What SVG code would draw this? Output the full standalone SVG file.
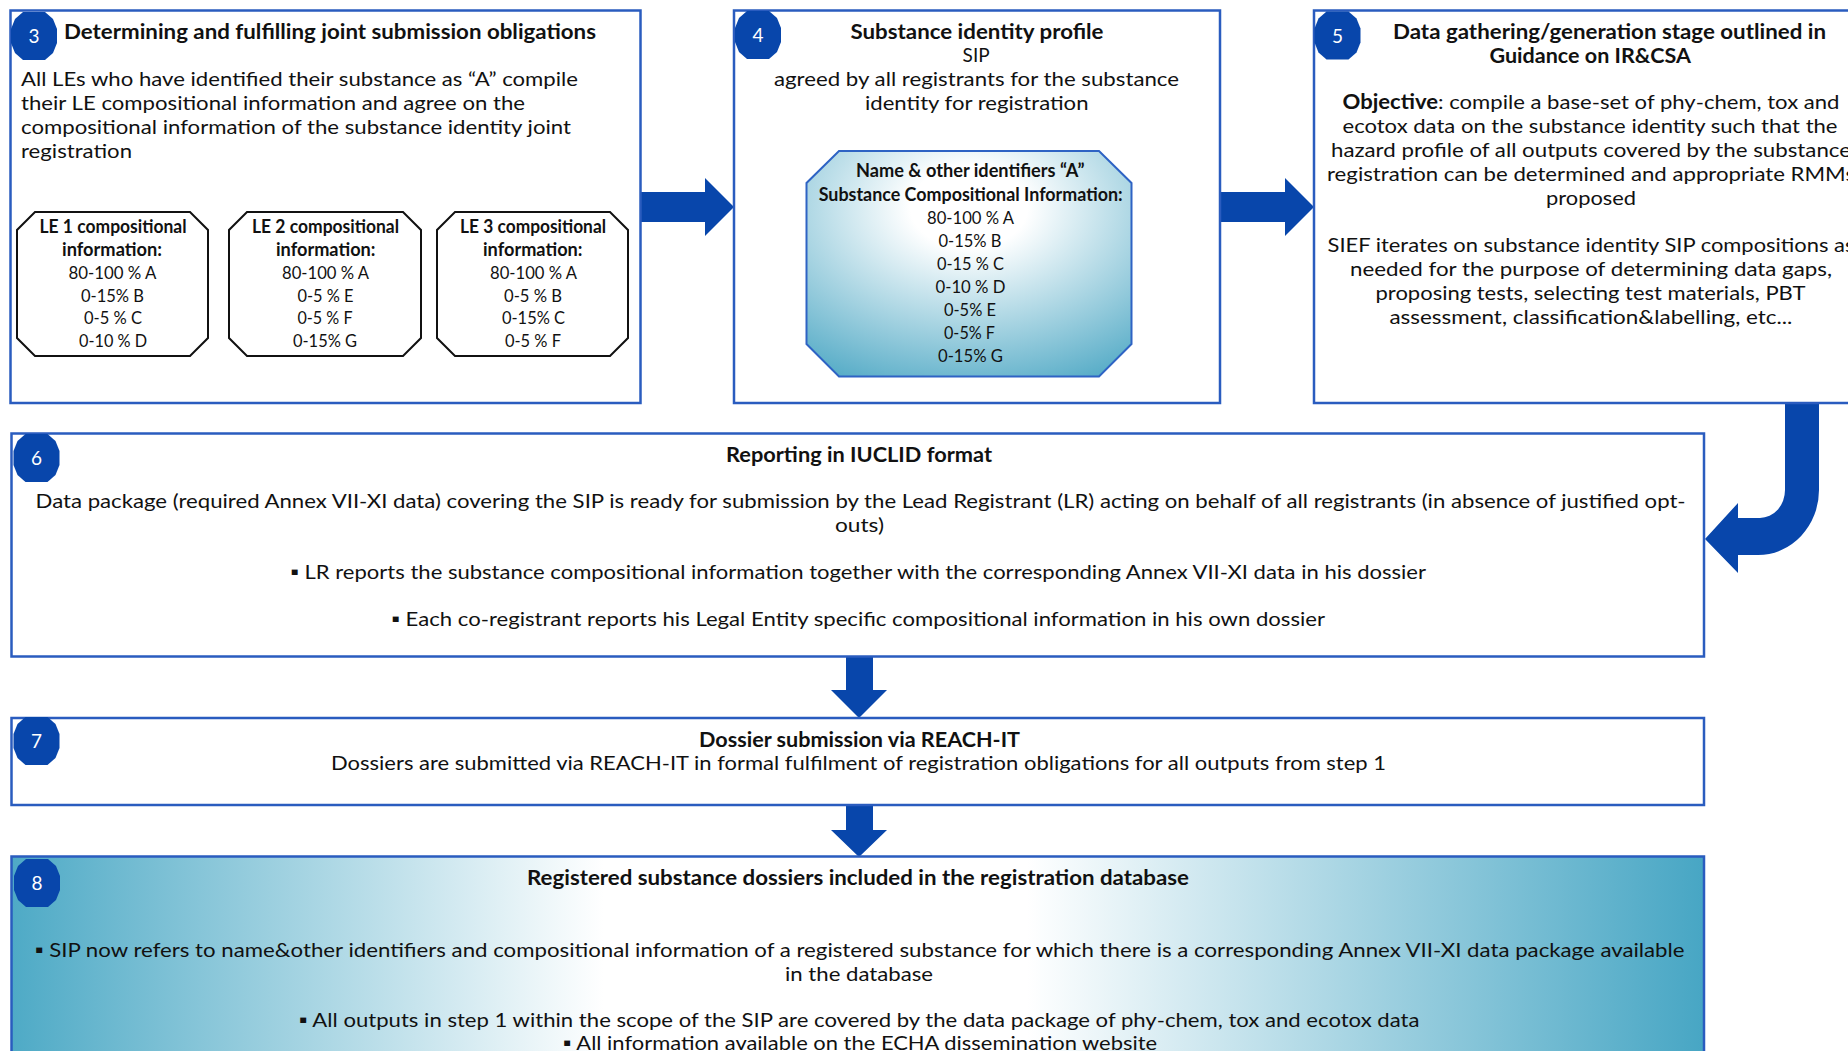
<svg xmlns="http://www.w3.org/2000/svg" xmlns:xlink="http://www.w3.org/1999/xlink" width="1848" height="1051" viewBox="0 0 1848 1051">
<style>
.box{fill:#fff;stroke:#2a5cbf;stroke-width:2.5}
.le{fill:#fff;stroke:#111;stroke-width:2}
.t{font-family:Lato,"Liberation Sans",sans-serif;font-size:20px;fill:#111}
.b{font-weight:bold}
.s{font-size:18px}
.badge{fill:#0846ab}
.num{font-family:Lato,"Liberation Sans",sans-serif;font-size:19px;fill:#fff;text-anchor:middle}
.arrow{fill:#0846ab}
</style>
<defs>
<polygon id="bdg" points="-11,-24 11,-24 19,-17 23,-7 23,7 19,17 11,24 -11,24 -19,17 -23,7 -23,-7 -19,-17"/>
<radialGradient id="octGrad" cx="0.5" cy="0.25" r="0.9" fx="0.5" fy="0.25">
<stop offset="0" stop-color="#ffffff"/>
<stop offset="0.2" stop-color="#ffffff"/>
<stop offset="1" stop-color="#4aa6c3"/>
</radialGradient>
<linearGradient id="boxGrad" x1="0" y1="0" x2="1" y2="0">
<stop offset="0" stop-color="#4eaac6"/>
<stop offset="0.35" stop-color="#ffffff"/>
<stop offset="0.6" stop-color="#ffffff"/>
<stop offset="1" stop-color="#47a6c4"/>
</linearGradient>
</defs>

<g id="connectors">
<polygon class="arrow" points="640,192 705,192 705,178 734,207 705,236 705,222 640,222"/>
<polygon class="arrow" points="1220,192 1285,192 1285,178 1314,207 1285,236 1285,222 1220,222"/>
<path class="arrow" d="M1785,402 H1819 V490 A61,65 0 0 1 1758,555 H1738 V573 L1705,539 L1738,503 V518 H1760 A25,28 0 0 0 1785,490 Z"/>
<polygon class="arrow" points="846,657 873,657 873,690 887,690 859,718 831,690 846,690"/>
<polygon class="arrow" points="846,805 873,805 873,830 887,830 859,857 831,830 846,830"/>
</g>

<g id="node3">
<rect class="box" x="10.5" y="10.5" width="630" height="392.5"/>
<use href="#bdg" class="badge" x="34" y="36"/>
<text class="num" x="34" y="43">3</text>
<text class="t b" x="64" y="39" textLength="532" lengthAdjust="spacingAndGlyphs">Determining and fulfilling joint submission obligations</text>
<text class="t" x="21" y="86" textLength="557" lengthAdjust="spacingAndGlyphs">All LEs who have identified their substance as “A” compile</text>
<text class="t" x="21" y="110" textLength="504" lengthAdjust="spacingAndGlyphs">their LE compositional information and agree on the</text>
<text class="t" x="21" y="134" textLength="550" lengthAdjust="spacingAndGlyphs">compositional information of the substance identity joint</text>
<text class="t" x="21" y="158" textLength="111" lengthAdjust="spacingAndGlyphs">registration</text>
<g id="le1">
<polygon class="le" points="35,212 190,212 208,230 208,338 190,356 35,356 17,338 17,230"/>
<text class="t s b" x="39.5" y="233" textLength="147" lengthAdjust="spacingAndGlyphs">LE 1 compositional</text>
<text class="t s b" x="62" y="256" textLength="100" lengthAdjust="spacingAndGlyphs">information:</text>
<text class="t s" x="68.5" y="279" textLength="88" lengthAdjust="spacingAndGlyphs">80-100 % A</text>
<text class="t s" x="81" y="301.5" textLength="63" lengthAdjust="spacingAndGlyphs">0-15% B</text>
<text class="t s" x="84" y="324" textLength="58" lengthAdjust="spacingAndGlyphs">0-5 % C</text>
<text class="t s" x="79" y="347" textLength="68" lengthAdjust="spacingAndGlyphs">0-10 % D</text>
</g>
<g id="le2">
<polygon class="le" points="247,212 403,212 421,230 421,338 403,356 247,356 229,338 229,230"/>
<text class="t s b" x="252" y="233" textLength="147" lengthAdjust="spacingAndGlyphs">LE 2 compositional</text>
<text class="t s b" x="276" y="256" textLength="99.5" lengthAdjust="spacingAndGlyphs">information:</text>
<text class="t s" x="282" y="279" textLength="87" lengthAdjust="spacingAndGlyphs">80-100 % A</text>
<text class="t s" x="297.5" y="301.5" textLength="56" lengthAdjust="spacingAndGlyphs">0-5 % E</text>
<text class="t s" x="297.5" y="324" textLength="55" lengthAdjust="spacingAndGlyphs">0-5 % F</text>
<text class="t s" x="293" y="347" textLength="64" lengthAdjust="spacingAndGlyphs">0-15% G</text>
</g>
<g id="le3">
<polygon class="le" points="455,212 610,212 628,230 628,338 610,356 455,356 437,338 437,230"/>
<text class="t s b" x="460" y="233" textLength="146" lengthAdjust="spacingAndGlyphs">LE 3 compositional</text>
<text class="t s b" x="483" y="256" textLength="99.5" lengthAdjust="spacingAndGlyphs">information:</text>
<text class="t s" x="490" y="279" textLength="87" lengthAdjust="spacingAndGlyphs">80-100 % A</text>
<text class="t s" x="504" y="301.5" textLength="58" lengthAdjust="spacingAndGlyphs">0-5 % B</text>
<text class="t s" x="502" y="324" textLength="63" lengthAdjust="spacingAndGlyphs">0-15% C</text>
<text class="t s" x="505" y="347" textLength="56" lengthAdjust="spacingAndGlyphs">0-5 % F</text>
</g>
</g>

<g id="node4">
<rect class="box" x="734" y="10.5" width="486" height="392.5"/>
<use href="#bdg" class="badge" x="758" y="35"/>
<text class="num" x="758" y="42">4</text>
<text class="t b" x="850.5" y="39" textLength="253" lengthAdjust="spacingAndGlyphs">Substance identity profile</text>
<text class="t" x="962.6" y="62" textLength="27" lengthAdjust="spacingAndGlyphs">SIP</text>
<text class="t" x="774" y="86" textLength="405" lengthAdjust="spacingAndGlyphs">agreed by all registrants for the substance</text>
<text class="t" x="865" y="110" textLength="223.5" lengthAdjust="spacingAndGlyphs">identity for registration</text>
<g id="sip">
<polygon points="839,151 1099,151 1131.5,183 1131.5,344 1099,376.5 839,376.5 806.5,344 806.5,183" fill="url(#octGrad)" stroke="#2e63c4" stroke-width="2"/>
<text class="t s b" x="856" y="177" textLength="228.5" lengthAdjust="spacingAndGlyphs">Name &amp; other identifiers “A”</text>
<text class="t s b" x="818.7" y="200.5" textLength="304" lengthAdjust="spacingAndGlyphs">Substance Compositional Information:</text>
<text class="t s" x="927" y="223.5" textLength="87" lengthAdjust="spacingAndGlyphs">80-100 % A</text>
<text class="t s" x="938.5" y="246.5" textLength="63" lengthAdjust="spacingAndGlyphs">0-15% B</text>
<text class="t s" x="937" y="269.5" textLength="67" lengthAdjust="spacingAndGlyphs">0-15 % C</text>
<text class="t s" x="935.5" y="292.5" textLength="70" lengthAdjust="spacingAndGlyphs">0-10 % D</text>
<text class="t s" x="944" y="315.5" textLength="52" lengthAdjust="spacingAndGlyphs">0-5% E</text>
<text class="t s" x="944" y="338.5" textLength="51" lengthAdjust="spacingAndGlyphs">0-5% F</text>
<text class="t s" x="938" y="361.5" textLength="65" lengthAdjust="spacingAndGlyphs">0-15% G</text>
</g>
</g>

<g id="node5">
<rect class="box" x="1314" y="10.5" width="580" height="392.5"/>
<use href="#bdg" class="badge" x="1337.5" y="35.5"/>
<text class="num" x="1337.5" y="42.5">5</text>
<text class="t b" x="1393" y="38.5" textLength="433" lengthAdjust="spacingAndGlyphs">Data gathering/generation stage outlined in</text>
<text class="t b" x="1489.5" y="62.5" textLength="201.5" lengthAdjust="spacingAndGlyphs">Guidance on IR&amp;CSA</text>
<text class="t" x="1342.5" y="109" textLength="497" lengthAdjust="spacingAndGlyphs"><tspan class="b">Objective</tspan>: compile a base-set of phy-chem, tox and</text>
<text class="t" x="1342.5" y="133" textLength="495" lengthAdjust="spacingAndGlyphs">ecotox data on the substance identity such that the</text>
<text class="t" x="1331" y="157" textLength="520" lengthAdjust="spacingAndGlyphs">hazard profile of all outputs covered by the substance</text>
<text class="t" x="1327" y="181" textLength="528" lengthAdjust="spacingAndGlyphs">registration can be determined and appropriate RMMs</text>
<text class="t" x="1546" y="205" textLength="90" lengthAdjust="spacingAndGlyphs">proposed</text>
<text class="t" x="1327.5" y="252" textLength="527" lengthAdjust="spacingAndGlyphs">SIEF iterates on substance identity SIP compositions as</text>
<text class="t" x="1350" y="276" textLength="482" lengthAdjust="spacingAndGlyphs">needed for the purpose of determining data gaps,</text>
<text class="t" x="1375.5" y="300" textLength="430" lengthAdjust="spacingAndGlyphs">proposing tests, selecting test materials, PBT</text>
<text class="t" x="1389.4" y="324" textLength="403" lengthAdjust="spacingAndGlyphs">assessment, classification&amp;labelling, etc...</text>
</g>

<g id="node6">
<rect class="box" x="11.5" y="433.5" width="1692.5" height="223"/>
<use href="#bdg" class="badge" x="36.5" y="458"/>
<text class="num" x="36.5" y="465">6</text>
<text class="t b" x="726" y="462" textLength="266" lengthAdjust="spacingAndGlyphs">Reporting in IUCLID format</text>
<text class="t" x="35.6" y="508" textLength="1650" lengthAdjust="spacingAndGlyphs">Data package (required Annex VII-XI data) covering the SIP is ready for submission by the Lead Registrant (LR) acting on behalf of all registrants (in absence of justified opt-</text>
<text class="t" x="835" y="532" textLength="49" lengthAdjust="spacingAndGlyphs">outs)</text>
<text class="t" x="290" y="579" textLength="1136" lengthAdjust="spacingAndGlyphs">▪ LR reports the substance compositional information together with the corresponding Annex VII-XI data in his dossier</text>
<text class="t" x="391" y="626" textLength="934" lengthAdjust="spacingAndGlyphs">▪ Each co-registrant reports his Legal Entity specific compositional information in his own dossier</text>
</g>

<g id="node7">
<rect class="box" x="11.5" y="718" width="1692.5" height="87"/>
<use href="#bdg" class="badge" x="36.5" y="741"/>
<text class="num" x="36.5" y="748">7</text>
<text class="t b" x="699" y="746.5" textLength="321" lengthAdjust="spacingAndGlyphs">Dossier submission via REACH-IT</text>
<text class="t" x="331" y="769.5" textLength="1055" lengthAdjust="spacingAndGlyphs">Dossiers are submitted via REACH-IT in formal fulfilment of registration obligations for all outputs from step 1</text>
</g>

<g id="node8">
<rect x="11.5" y="856.5" width="1692.5" height="260" fill="url(#boxGrad)" stroke="#2a5cbf" stroke-width="2.5"/>
<use href="#bdg" class="badge" x="37" y="883"/>
<text class="num" x="37" y="890">8</text>
<text class="t b" x="527" y="885" textLength="662" lengthAdjust="spacingAndGlyphs">Registered substance dossiers included in the registration database</text>
<text class="t" x="34.5" y="957" textLength="1650" lengthAdjust="spacingAndGlyphs">▪ SIP now refers to name&amp;other identifiers and compositional information of a registered substance for which there is a corresponding Annex VII-XI data package available</text>
<text class="t" x="785" y="981" textLength="148" lengthAdjust="spacingAndGlyphs">in the database</text>
<text class="t" x="298.5" y="1027" textLength="1121" lengthAdjust="spacingAndGlyphs">▪ All outputs in step 1 within the scope of the SIP are covered by the data package of phy-chem, tox and ecotox data</text>
<text class="t" x="562.6" y="1050" textLength="594.5" lengthAdjust="spacingAndGlyphs">▪ All information available on the ECHA dissemination website</text>
</g>
</svg>
